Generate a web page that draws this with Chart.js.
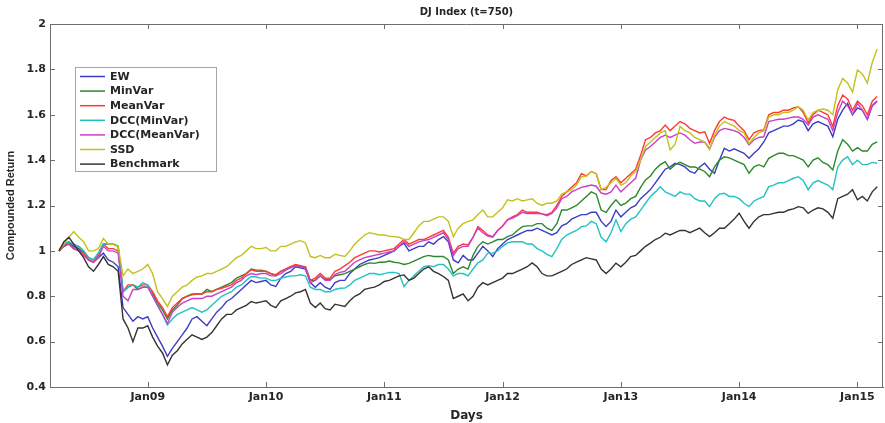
<!DOCTYPE html>
<html>
<head>
<meta charset="utf-8">
<title>DJ Index (t=750)</title>
<script src="https://cdn.jsdelivr.net/npm/chart.js@4/dist/chart.umd.min.js"></script>
<style>
  html, body { margin: 0; padding: 0; background: #ffffff; }
  #wrap { width: 885px; height: 423px; }
</style>
</head>
<body>
<div id="wrap"><canvas id="chart" width="885" height="423"></canvas></div>
<script>
// Compounded return of each strategy, sampled twice a month from April 2008 to February 2015
const chartTitle = 'DJ Index (t=750)';
const seriesNames = ['EW', 'MinVar', 'MeanVar', 'DCC(MinVar)', 'DCC(MeanVar)', 'SSD', 'Benchmark'];

const ew = [
  1.00, 1.03, 1.04, 1.02, 1.01, 0.99, 0.96, 0.95, 0.97, 0.99, 0.96, 0.95,
  0.93, 0.75, 0.72, 0.69, 0.71, 0.70, 0.71, 0.66, 0.62, 0.58, 0.535, 0.57,
  0.60, 0.63, 0.66, 0.70, 0.71, 0.69, 0.67, 0.70, 0.73, 0.75, 0.777, 0.79,
  0.81, 0.83, 0.85, 0.87, 0.86, 0.865, 0.87, 0.85, 0.843, 0.88, 0.90, 0.91,
  0.93, 0.925, 0.92, 0.86, 0.84, 0.86, 0.84, 0.83, 0.86, 0.87, 0.87, 0.90,
  0.92, 0.94, 0.95, 0.96, 0.965, 0.97, 0.98, 0.99, 1.00, 1.02, 1.034, 1.00,
  1.01, 1.02, 1.02, 1.04, 1.03, 1.05, 1.063, 1.04, 0.96, 0.947, 0.98, 0.96,
  0.96, 0.99, 1.02, 1.00, 0.975, 1.01, 1.03, 1.05, 1.06, 1.07, 1.08, 1.09,
  1.09, 1.10, 1.09, 1.08, 1.07, 1.08, 1.11, 1.12, 1.14, 1.15, 1.16, 1.16,
  1.17, 1.17, 1.13, 1.107, 1.13, 1.18, 1.15, 1.17, 1.19, 1.20, 1.23, 1.25,
  1.27, 1.30, 1.33, 1.36, 1.37, 1.386, 1.38, 1.37, 1.35, 1.342, 1.37, 1.386,
  1.36, 1.342, 1.40, 1.452, 1.44, 1.45, 1.44, 1.43, 1.408, 1.43, 1.45, 1.48,
  1.52, 1.53, 1.54, 1.55, 1.55, 1.56, 1.577, 1.57, 1.53, 1.56, 1.57, 1.56,
  1.55, 1.503, 1.58, 1.62, 1.65, 1.60, 1.63, 1.62, 1.58, 1.64, 1.66
];

const minVar = [
  1.00, 1.02, 1.04, 1.01, 1.02, 1.00, 0.97, 0.96, 0.99, 1.03, 1.03, 1.03,
  1.02, 0.82, 0.84, 0.85, 0.83, 0.84, 0.84, 0.81, 0.77, 0.74, 0.70, 0.74,
  0.76, 0.79, 0.80, 0.81, 0.81, 0.81, 0.83, 0.82, 0.83, 0.84, 0.85, 0.86,
  0.88, 0.89, 0.90, 0.92, 0.915, 0.915, 0.91, 0.90, 0.89, 0.91, 0.92, 0.93,
  0.935, 0.93, 0.93, 0.87, 0.87, 0.89, 0.875, 0.875, 0.89, 0.895, 0.90, 0.91,
  0.92, 0.93, 0.94, 0.947, 0.945, 0.95, 0.95, 0.955, 0.95, 0.947, 0.94, 0.945,
  0.955, 0.965, 0.975, 0.98, 0.975, 0.975, 0.975, 0.96, 0.90, 0.92, 0.93, 0.92,
  0.98, 1.02, 1.04, 1.03, 1.04, 1.05, 1.05, 1.063, 1.07, 1.09, 1.107, 1.11,
  1.11, 1.12, 1.12, 1.10, 1.09, 1.12, 1.18, 1.18, 1.19, 1.20, 1.22, 1.24,
  1.26, 1.25, 1.18, 1.17, 1.20, 1.225, 1.20, 1.21, 1.23, 1.24, 1.28, 1.313,
  1.33, 1.36, 1.38, 1.393, 1.36, 1.38, 1.39, 1.38, 1.37, 1.37, 1.36, 1.35,
  1.327, 1.37, 1.40, 1.415, 1.41, 1.40, 1.39, 1.38, 1.342, 1.37, 1.38, 1.37,
  1.408, 1.42, 1.43, 1.43, 1.42, 1.42, 1.41, 1.40, 1.37, 1.40, 1.41, 1.39,
  1.38, 1.357, 1.44, 1.49, 1.47, 1.44, 1.455, 1.44, 1.44, 1.47, 1.48
];

const meanVar = [
  1.00, 1.02, 1.03, 1.01, 1.00, 0.99, 0.96, 0.95, 0.98, 1.03, 1.01, 1.01,
  1.00, 0.82, 0.85, 0.85, 0.84, 0.85, 0.85, 0.82, 0.78, 0.75, 0.71, 0.75,
  0.77, 0.79, 0.80, 0.806, 0.81, 0.81, 0.82, 0.82, 0.83, 0.835, 0.843, 0.85,
  0.87, 0.88, 0.90, 0.916, 0.91, 0.91, 0.91, 0.90, 0.895, 0.91, 0.92, 0.93,
  0.94, 0.935, 0.93, 0.87, 0.88, 0.90, 0.88, 0.88, 0.91, 0.92, 0.935, 0.95,
  0.97, 0.98, 0.99, 1.00, 1.00, 0.995, 1.00, 1.005, 1.01, 1.03, 1.05, 1.03,
  1.04, 1.05, 1.05, 1.06, 1.07, 1.08, 1.09, 1.06, 0.99, 1.02, 1.03, 1.026,
  1.06, 1.107, 1.09, 1.07, 1.063, 1.09, 1.11, 1.137, 1.15, 1.16, 1.18, 1.17,
  1.17, 1.17, 1.163, 1.16, 1.17, 1.20, 1.24, 1.26, 1.28, 1.30, 1.34, 1.33,
  1.35, 1.34, 1.27, 1.27, 1.31, 1.327, 1.30, 1.32, 1.34, 1.36, 1.42, 1.49,
  1.50, 1.52, 1.53, 1.555, 1.53, 1.55, 1.57, 1.56, 1.54, 1.53, 1.52, 1.525,
  1.474, 1.53, 1.57, 1.59, 1.58, 1.575, 1.55, 1.53, 1.49, 1.52, 1.53, 1.533,
  1.60, 1.61, 1.61, 1.62, 1.62, 1.63, 1.635, 1.61, 1.565, 1.60, 1.62, 1.61,
  1.60, 1.548, 1.64, 1.687, 1.67, 1.62, 1.66, 1.64, 1.60, 1.66, 1.68
];

const dccMinVar = [
  1.00, 1.03, 1.04, 1.03, 1.02, 1.00, 0.97, 0.96, 0.99, 1.03, 1.03, 1.03,
  1.02, 0.82, 0.84, 0.85, 0.84, 0.86, 0.85, 0.80, 0.76, 0.72, 0.674, 0.70,
  0.72, 0.73, 0.74, 0.75, 0.74, 0.73, 0.74, 0.76, 0.78, 0.80, 0.81, 0.82,
  0.84, 0.85, 0.87, 0.887, 0.885, 0.88, 0.88, 0.87, 0.87, 0.88, 0.885, 0.89,
  0.89, 0.895, 0.89, 0.84, 0.83, 0.83, 0.82, 0.82, 0.83, 0.835, 0.836, 0.85,
  0.87, 0.88, 0.89, 0.90, 0.90, 0.895, 0.90, 0.905, 0.905, 0.90, 0.843, 0.87,
  0.89, 0.91, 0.93, 0.935, 0.93, 0.94, 0.94, 0.92, 0.89, 0.90, 0.90, 0.89,
  0.92, 0.947, 0.96, 0.99, 0.99, 1.00, 1.02, 1.035, 1.04, 1.04, 1.04, 1.03,
  1.03, 1.01, 1.00, 0.985, 0.975, 1.01, 1.05, 1.07, 1.08, 1.09, 1.107, 1.11,
  1.13, 1.12, 1.06, 1.04, 1.08, 1.137, 1.085, 1.12, 1.14, 1.15, 1.18, 1.21,
  1.24, 1.26, 1.283, 1.26, 1.25, 1.24, 1.26, 1.25, 1.25, 1.23, 1.22, 1.22,
  1.195, 1.23, 1.25, 1.254, 1.24, 1.24, 1.23, 1.21, 1.195, 1.22, 1.23, 1.24,
  1.283, 1.29, 1.30, 1.30, 1.31, 1.32, 1.327, 1.31, 1.27, 1.30, 1.31, 1.30,
  1.29, 1.27, 1.37, 1.40, 1.415, 1.38, 1.40, 1.38, 1.38, 1.39, 1.386
];

const dccMeanVar = [
  1.00, 1.02, 1.03, 1.01, 1.00, 0.98, 0.96, 0.95, 0.97, 1.02, 1.00, 1.00,
  0.99, 0.80, 0.78, 0.83, 0.83, 0.84, 0.84, 0.80, 0.76, 0.72, 0.68, 0.73,
  0.75, 0.77, 0.78, 0.79, 0.79, 0.79, 0.80, 0.80, 0.81, 0.82, 0.83, 0.84,
  0.86, 0.87, 0.89, 0.90, 0.895, 0.90, 0.90, 0.89, 0.89, 0.90, 0.915, 0.925,
  0.935, 0.93, 0.925, 0.86, 0.87, 0.89, 0.87, 0.87, 0.895, 0.905, 0.91, 0.93,
  0.95, 0.96, 0.97, 0.975, 0.98, 0.985, 0.99, 0.995, 1.00, 1.02, 1.04, 1.02,
  1.03, 1.04, 1.045, 1.05, 1.06, 1.07, 1.08, 1.05, 0.98, 1.01, 1.02, 1.02,
  1.06, 1.10, 1.08, 1.065, 1.06, 1.09, 1.11, 1.137, 1.145, 1.155, 1.17, 1.165,
  1.165, 1.165, 1.163, 1.155, 1.165, 1.19, 1.23, 1.24, 1.26, 1.27, 1.28, 1.285,
  1.29, 1.285, 1.255, 1.25, 1.26, 1.29, 1.26, 1.28, 1.30, 1.32, 1.40, 1.445,
  1.46, 1.48, 1.50, 1.51, 1.50, 1.51, 1.52, 1.51, 1.49, 1.474, 1.48, 1.48,
  1.45, 1.50, 1.53, 1.54, 1.535, 1.53, 1.52, 1.50, 1.467, 1.49, 1.50, 1.503,
  1.57, 1.575, 1.58, 1.58, 1.585, 1.59, 1.59, 1.58, 1.555, 1.59, 1.60, 1.59,
  1.58, 1.53, 1.61, 1.66, 1.64, 1.60, 1.65, 1.62, 1.58, 1.64, 1.66
];

const ssd = [
  1.00, 1.03, 1.06, 1.085, 1.06, 1.04, 1.00, 1.00, 1.01, 1.055, 1.03, 1.03,
  1.02, 0.89, 0.92, 0.90, 0.91, 0.92, 0.94, 0.90, 0.82, 0.79, 0.755, 0.80,
  0.82, 0.84, 0.85, 0.87, 0.885, 0.89, 0.90, 0.90, 0.91, 0.92, 0.93, 0.95,
  0.97, 0.98, 1.00, 1.02, 1.01, 1.01, 1.015, 1.00, 1.00, 1.02, 1.02, 1.03,
  1.04, 1.045, 1.035, 0.975, 0.97, 0.98, 0.97, 0.97, 0.985, 0.98, 0.975, 1.00,
  1.03, 1.05, 1.07, 1.08, 1.075, 1.07, 1.07, 1.065, 1.063, 1.06, 1.05, 1.05,
  1.08, 1.11, 1.13, 1.13, 1.14, 1.15, 1.15, 1.13, 1.063, 1.10, 1.12, 1.13,
  1.137, 1.16, 1.18, 1.15, 1.15, 1.17, 1.19, 1.225, 1.22, 1.23, 1.22, 1.225,
  1.23, 1.21, 1.20, 1.21, 1.21, 1.22, 1.25, 1.26, 1.27, 1.29, 1.327, 1.33,
  1.35, 1.34, 1.27, 1.28, 1.30, 1.32, 1.29, 1.30, 1.33, 1.35, 1.40, 1.46,
  1.48, 1.50, 1.52, 1.53, 1.445, 1.47, 1.548, 1.53, 1.52, 1.50, 1.49, 1.48,
  1.445, 1.51, 1.55, 1.57, 1.56, 1.55, 1.53, 1.52, 1.474, 1.50, 1.52, 1.53,
  1.59, 1.60, 1.60, 1.61, 1.61, 1.62, 1.636, 1.62, 1.577, 1.61, 1.62, 1.625,
  1.62, 1.60, 1.71, 1.76, 1.74, 1.70, 1.797, 1.78, 1.74, 1.83, 1.89
];

const benchmark = [
  1.00, 1.04, 1.06, 1.03, 1.00, 0.97, 0.93, 0.91, 0.94, 0.975, 0.94, 0.93,
  0.91, 0.70, 0.66, 0.60, 0.66, 0.66, 0.67, 0.62, 0.58, 0.55, 0.498, 0.54,
  0.56, 0.59, 0.61, 0.63, 0.62, 0.61, 0.62, 0.64, 0.67, 0.70, 0.72, 0.72,
  0.74, 0.75, 0.76, 0.777, 0.77, 0.775, 0.78, 0.76, 0.75, 0.78, 0.79, 0.80,
  0.815, 0.82, 0.83, 0.77, 0.75, 0.77, 0.745, 0.74, 0.765, 0.76, 0.755, 0.78,
  0.80, 0.81, 0.83, 0.836, 0.84, 0.85, 0.865, 0.87, 0.88, 0.89, 0.894, 0.87,
  0.88, 0.90, 0.92, 0.93, 0.91, 0.90, 0.887, 0.87, 0.79, 0.80, 0.81, 0.78,
  0.80, 0.84, 0.86, 0.85, 0.86, 0.87, 0.88, 0.90, 0.90, 0.91, 0.92, 0.93,
  0.947, 0.93, 0.90, 0.89, 0.89, 0.90, 0.91, 0.92, 0.94, 0.95, 0.96, 0.97,
  0.965, 0.96, 0.92, 0.90, 0.92, 0.946, 0.93, 0.95, 0.975, 0.98, 1.00, 1.02,
  1.034, 1.05, 1.06, 1.078, 1.07, 1.08, 1.09, 1.09, 1.08, 1.09, 1.10, 1.08,
  1.063, 1.08, 1.10, 1.10, 1.12, 1.14, 1.166, 1.13, 1.10, 1.13, 1.15, 1.16,
  1.16, 1.165, 1.17, 1.17, 1.18, 1.185, 1.195, 1.19, 1.165, 1.18, 1.19, 1.185,
  1.17, 1.144, 1.23, 1.24, 1.25, 1.27, 1.225, 1.24, 1.22, 1.26, 1.283
];

// Axis ticks: January of each year on x, returns on y
const yearTicks = [2009, 2010, 2011, 2012, 2013, 2014, 2015];
const yearTickLabels = ['Jan09', 'Jan10', 'Jan11', 'Jan12', 'Jan13', 'Jan14', 'Jan15'];
const yTickValues = [0.4, 0.6, 0.8, 1, 1.2, 1.4, 1.6, 1.8, 2];

// Sample dates as fractional years (first sample in April 2008, two per month)
const firstSample = 2008.25;
const samplesPerYear = 24;
const sampleDates = ew.map((_, i) => firstSample + i / samplesPerYear);

const seriesValues = [ew, minVar, meanVar, dccMinVar, dccMeanVar, ssd, benchmark];
const seriesColors = ['#3c3cc4', '#2b8a2b', '#ff3a30', '#22c2c2', '#c840c8', '#c2c21c', '#333333'];

const axisColor = '#6e6e6e';
const textColor = '#262626';
const boldFont = (size, family) => ({ family: family || '"DejaVu Sans", Verdana, sans-serif', size: size, weight: 'bold' });

// Title over the plot box, box frame, inward tick marks and the legend panel
const framePlugin = {
  id: 'frame',
  afterDraw(chart) {
    const { ctx, chartArea: a, scales: { x, y } } = chart;
    ctx.save();

    ctx.fillStyle = textColor;
    ctx.font = 'bold 10px "DejaVu Sans", Verdana, sans-serif';
    ctx.textAlign = 'center';
    ctx.textBaseline = 'middle';
    ctx.fillText(chartTitle, (a.left + a.right) / 2, 12);

    ctx.strokeStyle = axisColor;
    ctx.lineWidth = 1;
    ctx.beginPath();
    ctx.moveTo(a.left, a.top + 0.5);
    ctx.lineTo(a.right, a.top + 0.5);
    ctx.moveTo(a.right - 0.5, a.top);
    ctx.lineTo(a.right - 0.5, a.bottom);
    yearTicks.forEach(v => {
      const px = Math.round(x.getPixelForValue(v)) + 0.5;
      ctx.moveTo(px, a.bottom);
      ctx.lineTo(px, a.bottom - 5);
      ctx.moveTo(px, a.top);
      ctx.lineTo(px, a.top + 5);
    });
    yTickValues.forEach(v => {
      const py = Math.round(y.getPixelForValue(v)) + 0.5;
      ctx.moveTo(a.left, py);
      ctx.lineTo(a.left + 5, py);
      ctx.moveTo(a.right, py);
      ctx.lineTo(a.right - 5, py);
    });
    ctx.stroke();

    // legend
    const lx = a.left + 25, ly = a.top + 43, lw = 141, lh = 104;
    ctx.fillStyle = '#ffffff';
    ctx.fillRect(lx, ly, lw, lh);
    ctx.strokeStyle = '#a6a6a6';
    ctx.strokeRect(lx + 0.5, ly + 0.5, lw, lh);
    ctx.font = 'bold 11px "DejaVu Sans", Verdana, sans-serif';
    ctx.textBaseline = 'middle';
    ctx.textAlign = 'left';
    chart.data.datasets.forEach((ds, k) => {
      const ry = ly + 9.5 + k * 14.6;
      ctx.strokeStyle = ds.borderColor;
      ctx.lineWidth = 1.5;
      ctx.beginPath();
      ctx.moveTo(lx + 5, ry);
      ctx.lineTo(lx + 30, ry);
      ctx.stroke();
      ctx.fillStyle = textColor;
      ctx.fillText(ds.label, lx + 35, ry + 0.5);
    });
    ctx.restore();
  }
};

new Chart(document.getElementById('chart'), {
  type: 'line',
  data: {
    datasets: seriesNames.map((name, k) => ({
      label: name,
      data: seriesValues[k].map((v, i) => ({ x: sampleDates[i], y: v })),
      borderColor: seriesColors[k],
      backgroundColor: seriesColors[k],
      borderWidth: 1.4,
      pointRadius: 0,
      tension: 0,
      fill: false,
      order: seriesNames.length - k
    }))
  },
  options: {
    responsive: false,
    devicePixelRatio: 1,
    animation: false,
    layout: { padding: { top: 24, right: 2, left: 0, bottom: 0 } },
    plugins: {
      legend: { display: false },
      tooltip: { enabled: false },
      title: { display: false }
    },
    scales: {
      x: {
        type: 'linear',
        min: 2008.174,
        max: 2015.216,
        afterBuildTicks: s => { s.ticks = yearTicks.map(v => ({ value: v })); },
        afterFit: s => { s.height = 36; },
        grid: { display: false, drawTicks: false },
        border: { display: true, color: axisColor, width: 1 },
        ticks: {
          autoSkip: false,
          maxRotation: 0,
          padding: 4,
          color: textColor,
          font: boldFont(11),
          callback: v => yearTickLabels[yearTicks.indexOf(v)]
        },
        title: { display: true, text: 'Days', color: textColor, font: boldFont(12), padding: { top: 0, bottom: 0 } }
      },
      y: {
        type: 'linear',
        min: 0.4,
        max: 2,
        afterBuildTicks: s => { s.ticks = yTickValues.map(v => ({ value: v })); },
        afterFit: s => { s.width = 50; },
        grid: { display: false, drawTicks: false },
        border: { display: true, color: axisColor, width: 1 },
        ticks: {
          padding: 4,
          color: textColor,
          font: boldFont(11),
          callback: v => String(v)
        },
        title: { display: true, text: 'Compounded Return', color: textColor, font: boldFont(11, '"Liberation Sans", Arial, sans-serif'), padding: { top: 4, bottom: 0 } }
      }
    }
  },
  plugins: [framePlugin]
});
</script>
</body>
</html>
